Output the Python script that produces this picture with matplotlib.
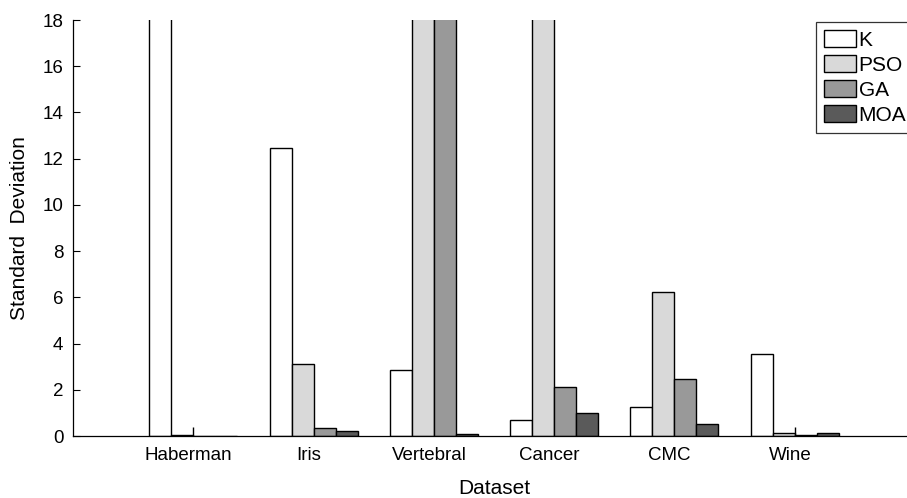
import numpy as np
import matplotlib
matplotlib.use("Agg")
import matplotlib.pyplot as plt

plt.rcParams['font.family'] = ['Liberation Sans', 'DejaVu Sans']

datasets = ['Haberman', 'Iris', 'Vertebral', 'Cancer', 'CMC', 'Wine']
methods = ['K', 'PSO', 'GA', 'MOA']

# standard deviation per method (values above 18 run off the top of the axis)
k_vals = [30.0, 12.45, 2.86, 0.71, 1.27, 3.56]
pso_vals = [0.03, 3.10, 30.0, 30.0, 6.23, 0.12]
ga_vals = [0.02, 0.36, 30.0, 2.13, 2.47, 0.03]
moa_vals = [0.02, 0.23, 0.07, 0.98, 0.51, 0.12]
# small stray marks seen at the centre of two groups
spikes = [0.38, 0, 0, 0, 0, 0.38]

colors = ['white', '#d9d9d9', '#999999', '#5a5a5a']

fig = plt.figure(figsize=(9.07, 4.98), dpi=100)
ax = fig.add_axes([73 / 907, 62 / 498, 842 / 907, 416 / 498])

x = np.arange(1, len(datasets) + 1)
w = 0.183
series = [k_vals, pso_vals, ga_vals, moa_vals]
for i, (vals, c, lab) in enumerate(zip(series, colors, methods)):
    ax.bar(x + (i - 1.5) * w, vals, width=w, color=c, edgecolor='black',
           linewidth=1.0, label=lab)

sx = [xi for xi, s in zip(x, spikes) if s > 0]
sy = [s for s in spikes if s > 0]
ax.vlines(sx, 0, sy, color='black', linewidth=1.0)

ax.set_xlim(0, 7)
ax.set_ylim(0, 18)
ax.set_yticks(range(0, 19, 2))
ax.set_xticks(x - 0.04)
ax.set_xticklabels(datasets)
ax.tick_params(axis='y', direction='in', length=5, width=0.8, labelsize=13.5, pad=7)
ax.tick_params(axis='x', length=0, labelsize=13.5, pad=8)
ax.spines['top'].set_visible(False)
ax.spines['right'].set_visible(False)
ax.spines['left'].set_linewidth(0.9)
ax.spines['bottom'].set_linewidth(0.9)

ax.set_ylabel('Standard  Deviation', fontsize=15, labelpad=10)
ax.set_xlabel('Dataset', fontsize=15, labelpad=11)

leg = ax.legend(loc='upper left', bbox_to_anchor=(816 / 907, 1 - 22 / 498),
                bbox_transform=fig.transFigure, fontsize=15, frameon=True,
                fancybox=False, handlelength=1.54, handleheight=0.89,
                labelspacing=0.25, handletextpad=0.1, borderpad=0.4,
                borderaxespad=0)
leg.get_frame().set_edgecolor('black')
leg.get_frame().set_linewidth(0.9)

fig.savefig('out.png', dpi=100)
